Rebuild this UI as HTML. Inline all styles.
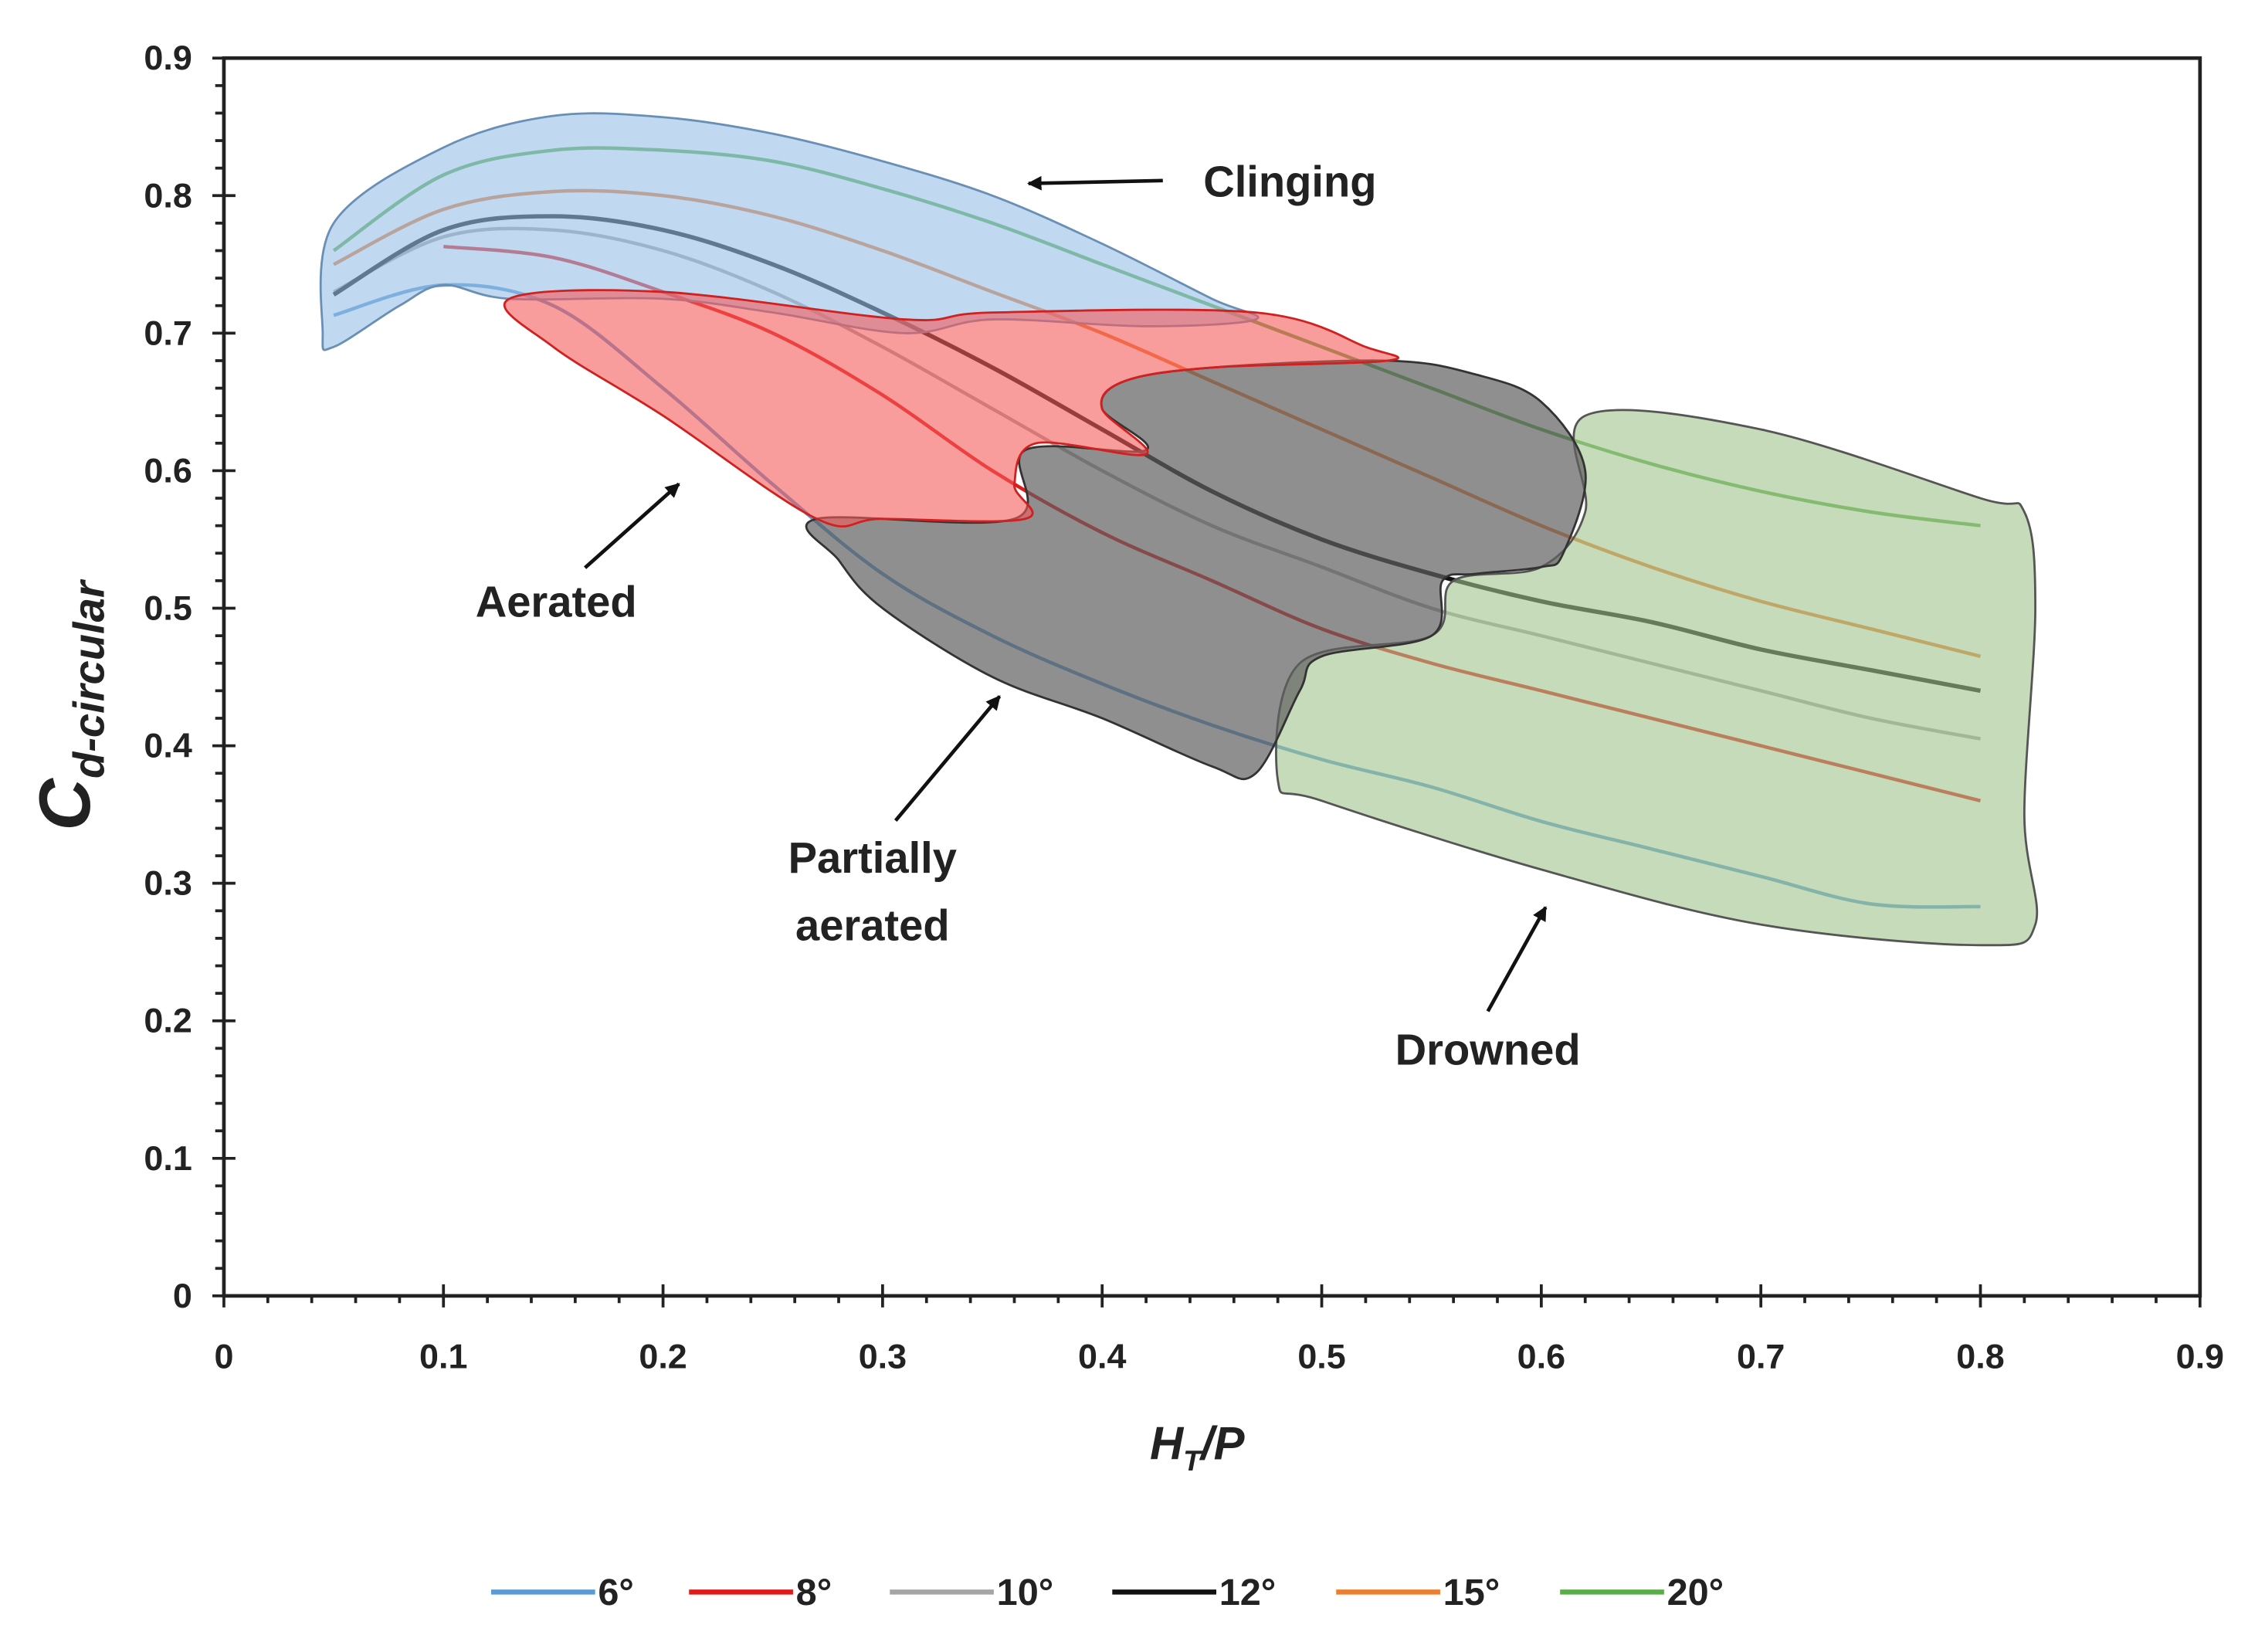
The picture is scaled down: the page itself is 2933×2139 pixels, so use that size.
<!DOCTYPE html>
<html><head><meta charset="utf-8"><style>
html,body{margin:0;padding:0;background:#fff}
svg{display:block}
text{font-family:"Liberation Sans",sans-serif;font-weight:bold;fill:#222}
</style></head><body>
<svg id="chart" width="2933" height="2139" viewBox="0 0 1568 1143.5" xmlns="http://www.w3.org/2000/svg">
<g id="series"></g>
<g id="regions"></g>
<g id="axes"></g>
<g id="ann"></g>
</svg>
<script>
const xs = [0.05,0.1,0.15,0.2,0.25,0.3,0.35,0.4,0.45,0.5,0.55,0.6,0.65,0.7,0.75,0.8];
const s6  = [0.713,0.735,0.72,0.66,0.59,0.525,0.48,0.445,0.415,0.39,0.37,0.345,0.325,0.305,0.285,0.283];
const s8  = [null,0.763,0.755,0.73,0.70,0.655,0.60,0.555,0.52,0.485,0.46,0.44,0.42,0.40,0.38,0.36];
const s10 = [0.73,0.77,0.775,0.76,0.73,0.69,0.645,0.60,0.56,0.53,0.50,0.48,0.46,0.44,0.42,0.405];
const s12 = [0.728,0.775,0.785,0.775,0.75,0.715,0.675,0.63,0.585,0.55,0.525,0.505,0.49,0.47,0.455,0.44];
const s15 = [0.75,0.79,0.803,0.80,0.785,0.76,0.73,0.70,0.665,0.63,0.595,0.56,0.53,0.505,0.485,0.465];
const s20 = [0.76,0.815,0.833,0.833,0.825,0.805,0.78,0.75,0.72,0.69,0.66,0.63,0.605,0.585,0.57,0.56];
const seriesNames = ["6°","8°","10°","12°","15°","20°"];
const seriesColors = ["#5b9bd5","#e01a1a","#a5a5a5","#111111","#ed7d31","#5aae4a"];
const xTicks = ["0","0.1","0.2","0.3","0.4","0.5","0.6","0.7","0.8","0.9"];
const yTicks = ["0","0.1","0.2","0.3","0.4","0.5","0.6","0.7","0.8","0.9"];
const clingX = [0.045,0.05,0.1,0.15,0.2,0.25,0.3,0.35,0.4,0.45,0.47,0.42,0.35,0.31,0.25,0.2,0.13,0.1,0.08,0.05];
const clingY = [0.70,0.78,0.835,0.858,0.857,0.845,0.825,0.80,0.765,0.725,0.71,0.705,0.71,0.70,0.715,0.725,0.725,0.735,0.72,0.69];
const aerX = [0.13,0.2,0.31,0.35,0.47,0.52,0.53,0.45,0.41,0.40,0.42,0.37,0.36,0.365,0.3,0.27,0.2,0.15];
const aerY = [0.725,0.73,0.71,0.715,0.715,0.69,0.68,0.675,0.665,0.645,0.612,0.62,0.59,0.565,0.565,0.565,0.64,0.69];
const partX = [0.27,0.36,0.365,0.42,0.40,0.41,0.45,0.53,0.57,0.60,0.62,0.61,0.60,0.57,0.555,0.55,0.5,0.49,0.47,0.45,0.4,0.35,0.3,0.28];
const partY = [0.565,0.565,0.615,0.615,0.645,0.665,0.675,0.68,0.67,0.65,0.60,0.54,0.53,0.525,0.52,0.48,0.465,0.44,0.38,0.385,0.42,0.45,0.50,0.535];
const drownX = [0.48,0.49,0.55,0.56,0.60,0.62,0.62,0.7,0.8,0.82,0.825,0.82,0.825,0.8,0.7,0.6,0.5];
const drownY = [0.375,0.46,0.48,0.52,0.53,0.57,0.64,0.63,0.58,0.57,0.5,0.35,0.27,0.255,0.27,0.31,0.36];

const NS="http://www.w3.org/2000/svg";
const X=v=>155+v*1520, Y=v=>897-v*952;
function mk(tag,attrs,parent){const e=document.createElementNS(NS,tag);for(const k in attrs)e.setAttribute(k,attrs[k]);parent.appendChild(e);return e;}
function smooth(pts,closed){
  const n=pts.length;let d="M"+pts[0][0]+","+pts[0][1];
  const g=i=>closed?pts[(i+n)%n]:pts[Math.max(0,Math.min(n-1,i))];
  const m=closed?n:n-1;
  for(let i=0;i<m;i++){const p0=g(i-1),p1=g(i),p2=g(i+1),p3=g(i+2);
    d+=" C"+(p1[0]+(p2[0]-p0[0])/6)+","+(p1[1]+(p2[1]-p0[1])/6)+" "+(p2[0]-(p3[0]-p1[0])/6)+","+(p2[1]-(p3[1]-p1[1])/6)+" "+p2[0]+","+p2[1];}
  return d+(closed?"Z":"");
}
const R=document.getElementById("regions");
const regs=[[clingX,clingY,"rgba(150,190,230,0.6)","#6a8fb5","region-clinging"],
 [drownX,drownY,"rgba(160,195,140,0.6)","#555","region-drowned"],
 [partX,partY,"rgba(95,95,95,0.7)","#333","region-partially-aerated"],
 [aerX,aerY,"rgba(245,90,90,0.6)","#d02020","region-aerated"]];
regs.forEach(r=>{const p=mk("path",{d:smooth(r[0].map((v,i)=>[X(v),Y(r[1][i])]),true),fill:r[2],stroke:r[3],"stroke-width":1.5},R);

});
const S=document.getElementById("series");
[s6,s8,s10,s12,s15,s20].forEach((s,k)=>{const pts=[];s.forEach((v,i)=>{if(v!==null)pts.push([X(xs[i]),Y(v)]);});
const p=mk("path",{d:smooth(pts,false),fill:"none",stroke:seriesColors[k],"stroke-width":k==3?3:2.4},S);

});
const A=document.getElementById("axes");
mk("rect",{x:X(0),y:Y(0.9),width:X(0.9)-X(0),height:Y(0)-Y(0.9),fill:"none",stroke:"#222","stroke-width":2.5},A);
for(let i=0;i<=45;i++){const v=i*0.02,maj=i%5==0;
 mk("line",{x1:X(v),x2:X(v),y1:Y(0)-(maj?8:0),y2:Y(0)+(maj?8:5),stroke:"#222","stroke-width":2},A);
 mk("line",{y1:Y(v),y2:Y(v),x1:X(0)+(maj?8:0),x2:X(0)-(maj?8:6),stroke:"#222","stroke-width":2},A);}
xTicks.forEach((t,i)=>{const e=mk("text",{x:X(i*0.1),y:Y(0)+50,"text-anchor":"middle","font-size":24},A);e.textContent=t;

});
yTicks.forEach((t,i)=>{const e=mk("text",{x:X(0)-22,y:Y(i*0.1)+8,"text-anchor":"end","font-size":24},A);e.textContent=t;

});
const yt=mk("text",{transform:"translate(62,575) rotate(-90)","font-size":50,"font-style":"italic"},A);
yt.innerHTML='C<tspan font-size="30" dy="10">d-circular</tspan>';


const xt=mk("text",{x:796,y:1010,"font-size":32,"font-style":"italic"},A);
xt.innerHTML='H<tspan font-size="20" dy="8">T</tspan><tspan dy="-8">/P</tspan>';


const N=document.getElementById("ann");
const defs=mk("defs",{},N);const mkr=mk("marker",{id:"ah",markerWidth:10,markerHeight:10,refX:9,refY:5,orient:"auto",markerUnits:"userSpaceOnUse"},defs);
mk("path",{d:"M0,0 L10,5 L0,10 Z",fill:"#111"},mkr);
const labels=[["Clinging",893,136,805,125,712,127],["Aerated",385,427,405,393,470,335],["Partially",604,604,620,568,692,482],["Drowned",1030,737,1030,700,1070,628]];
labels.forEach(l=>{const e=mk("text",{x:l[1],y:l[2],"text-anchor":"middle","font-size":30},N);e.textContent=l[0];


const a=mk("line",{x1:l[3],y1:l[4],x2:l[5],y2:l[6],stroke:"#111","stroke-width":2.5,"marker-end":"url(#ah)"},N);

});
const pa=mk("text",{x:604,y:651,"text-anchor":"middle","font-size":30},N);pa.textContent="aerated";


const lx=[340,477,616,770,925,1080];
seriesNames.forEach((n,k)=>{const g=mk("g",{},N);


mk("line",{x1:lx[k],x2:lx[k]+72,y1:1102,y2:1102,stroke:seriesColors[k],"stroke-width":3.5},g);
const t=mk("text",{x:lx[k]+74,y:1111,"font-size":26},g);t.textContent=n;});
</script>
</body></html>
